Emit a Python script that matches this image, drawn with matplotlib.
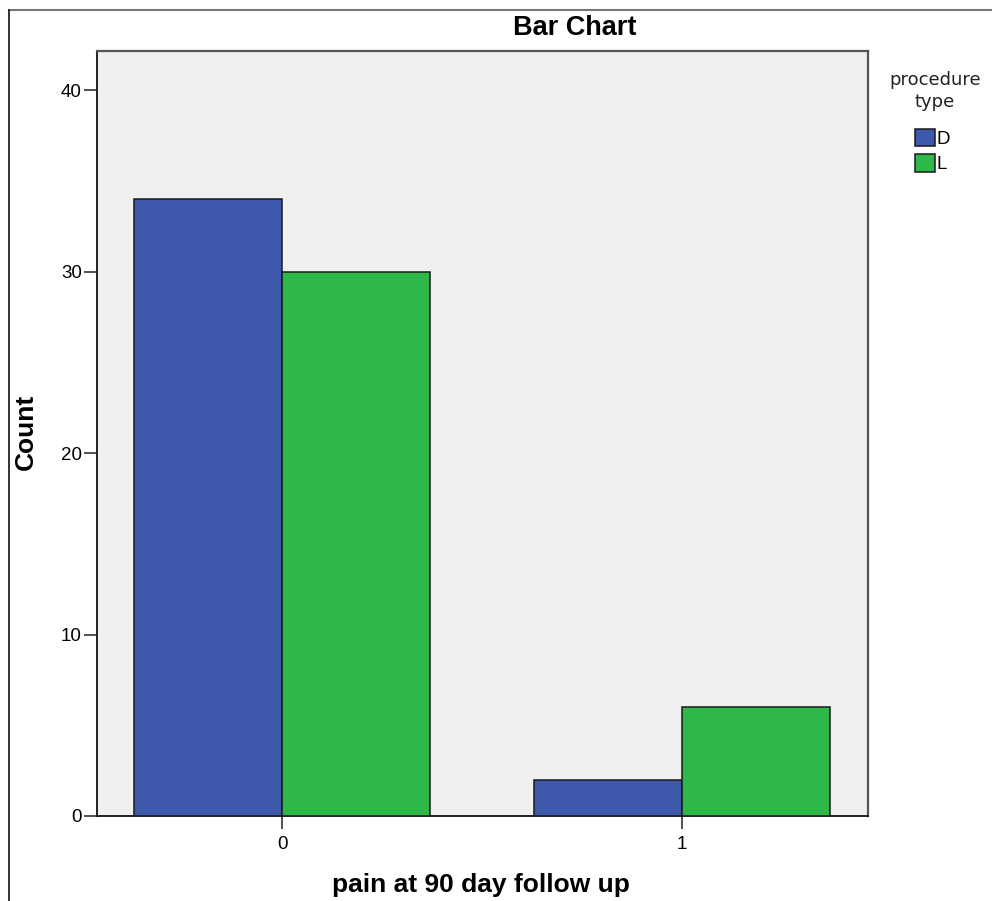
import matplotlib
matplotlib.use("Agg")
import matplotlib.pyplot as plt
from matplotlib.lines import Line2D
import numpy as np

plt.rcParams['font.family'] = ['Liberation Sans', 'DejaVu Sans']

categories = ['0', '1']
series_names = ['D', 'L']
values_D = [34, 2]
values_L = [30, 6]
y_ticks = [0, 10, 20, 30, 40]

colors = {'D': '#3E58AB', 'L': '#2EB84A'}

W, H = 992, 901
fig = plt.figure(figsize=(W / 100, H / 100), dpi=100)
fig.patch.set_facecolor('white')

ax = fig.add_axes([97 / W, 1 - 816 / H, (868 - 97) / W, (816 - 51) / H])
ax.set_facecolor('#F0F0F0')

x = np.arange(len(categories))
w = 0.37
ax.bar(x - w / 2, values_D, width=w, color=colors['D'], edgecolor='#1a1a1a',
       linewidth=1.1, label=series_names[0], zorder=3)
ax.bar(x + w / 2, values_L, width=w, color=colors['L'], edgecolor='#1a1a1a',
       linewidth=1.1, label=series_names[1], zorder=3)

ax.set_xlim(-0.4625, 1.465)
ax.set_ylim(0, 42.15)
ax.set_xticks(x)
ax.set_xticklabels(categories)
ax.set_yticks(y_ticks)
ax.tick_params(axis='both', direction='out', length=9.5, width=1.1,
               labelsize=13.5, color='#222222')
ax.tick_params(axis='y', pad=1.5)
ax.tick_params(axis='x', pad=5)

for s in ['left', 'bottom']:
    ax.spines[s].set_color('#111111')
    ax.spines[s].set_linewidth(1.3)
for s in ['top', 'right']:
    ax.spines[s].set_color('#555555')
    ax.spines[s].set_linewidth(1.6)

fig.text(575 / W, 1 - 28 / H, 'Bar Chart', ha='center', va='center',
         fontsize=19.5, fontweight='bold')
fig.text(481 / W, 1 - 885 / H, 'pain at 90 day follow up', ha='center',
         va='center', fontsize=19, fontweight='bold')
fig.text(26 / W, 1 - 432 / H, 'Count', ha='center', va='center',
         rotation=90, fontsize=19, fontweight='bold')

# legend title
fig.text(935 / W, 1 - 91 / H, 'procedure\ntype', ha='center', va='center',
         multialignment='center', fontsize=13, linespacing=1.25,
         color='#222222', family=['DejaVu Sans'])

leg = fig.legend(loc='upper left', bbox_to_anchor=(915 / W, 1 - 129 / H),
                 frameon=False, fontsize=13.5, handlelength=1.05,
                 handleheight=1.05, handletextpad=0.12, labelspacing=0.33,
                 borderpad=0, borderaxespad=0)

fig.add_artist(Line2D([9 / W, 1], [1 - 10 / H, 1 - 10 / H], color='#777777',
                      linewidth=1.5, transform=fig.transFigure))
fig.add_artist(Line2D([9 / W, 9 / W], [0, 1 - 10 / H], color='#111111',
                      linewidth=1.2, transform=fig.transFigure))

fig.savefig('out.png', dpi=100, facecolor='white')
